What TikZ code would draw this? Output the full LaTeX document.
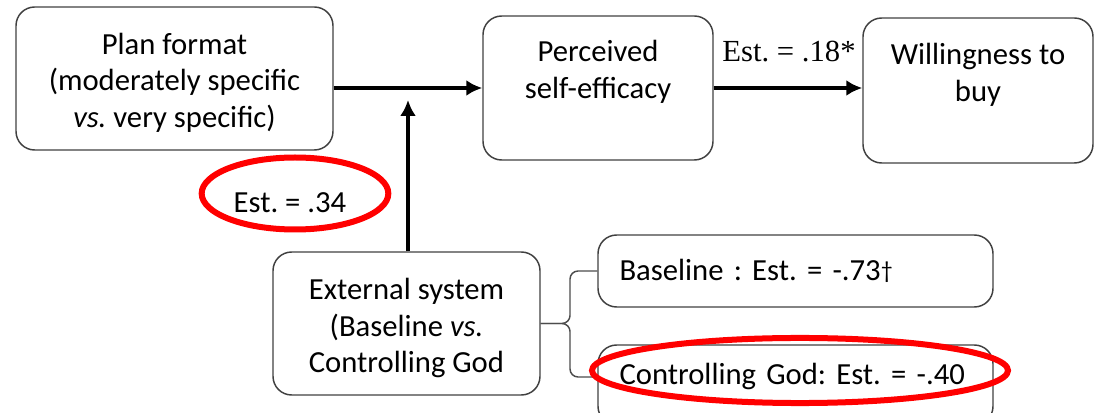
\documentclass[tikz,border=0pt]{standalone}
\usepackage{fontspec}
\setmainfont{Carlito}
\newfontfamily\timesfont{Liberation Serif}
\usetikzlibrary{arrows.meta}
\frenchspacing

\begin{document}
\begin{tikzpicture}[x=0.75pt, y=-0.75pt,
	every node/.style = {font=\fontsize{23}{27.5}\selectfont},
	box/.style = {draw=black!75, line width=1.1pt, rounded corners=14pt, align=center},
	optbox/.style = {box, minimum width=296.25pt, minimum height=54pt,
		text width=264pt, inner xsep=16pt, align=left},
	path arrow/.style = {line width=3pt, -{Latex[length=12pt, width=12pt]}},
	brace line/.style = {draw=black!70, line width=1.1pt, rounded corners=6pt},
	circled/.style = {red, line width=4.5pt}]

\useasboundingbox (0,0) rectangle (1097,413);

% main boxes
\node[box, minimum width=237.75pt, minimum height=107.25pt] (plan) at (174.5,78.5)
	{\rule{0pt}{22pt}Plan format\\(moderately specific\\\textit{vs.} very specific)};
\node[box, minimum width=172.5pt, minimum height=108pt] (perc) at (598,88)
	{Perceived\\self-efficacy\\\mbox{}};
\node[box, minimum width=172.5pt, minimum height=108.75pt] (will) at (978,90.5)
	{Willingness to\\buy\\\mbox{}};
\node[box, minimum width=200.25pt, minimum height=107.25pt] (ext) at (406.5,323.5)
	{\rule{0pt}{23pt}External system\\(Baseline \textit{vs.}\\Controlling God};

% level boxes
\node[optbox] (base) at (795.5,271)
	{Baseline : Est. = -.73\raisebox{2pt}{\fontsize{18}{20}\selectfont †}};
\node[optbox, minimum height=60pt, text depth=16pt] (ctrl) at (795.5,385)
	{Controlling God: Est. = -.40};

% arrows
\coordinate (meet) at (408,100);
\draw[path arrow] (plan.east |- perc.west) -- (perc.west);
\draw[path arrow] (meet |- ext.north) -- (meet);
\draw[path arrow] (perc.east) -- (perc.east -| will.west);

% estimates
\node[font=\timesfont\fontsize{23}{26}\selectfont] (estb) at (789,52) {Est. = .18*};
\node (esta) at (290,203) {Est. = .34};

% brace
\coordinate (tip) at (570,323.5);
\draw[brace line] (base.west) -| (tip) -- (ext.east);
\draw[brace line] (598,377) -| (tip) -- (ext.east);

% red marks
\draw[circled] (295,193.5) ellipse [x radius=70pt, y radius=27pt];
\draw[circled] (800,370.5) ellipse [x radius=156pt, y radius=24.4pt];

\end{tikzpicture}
\end{document}
